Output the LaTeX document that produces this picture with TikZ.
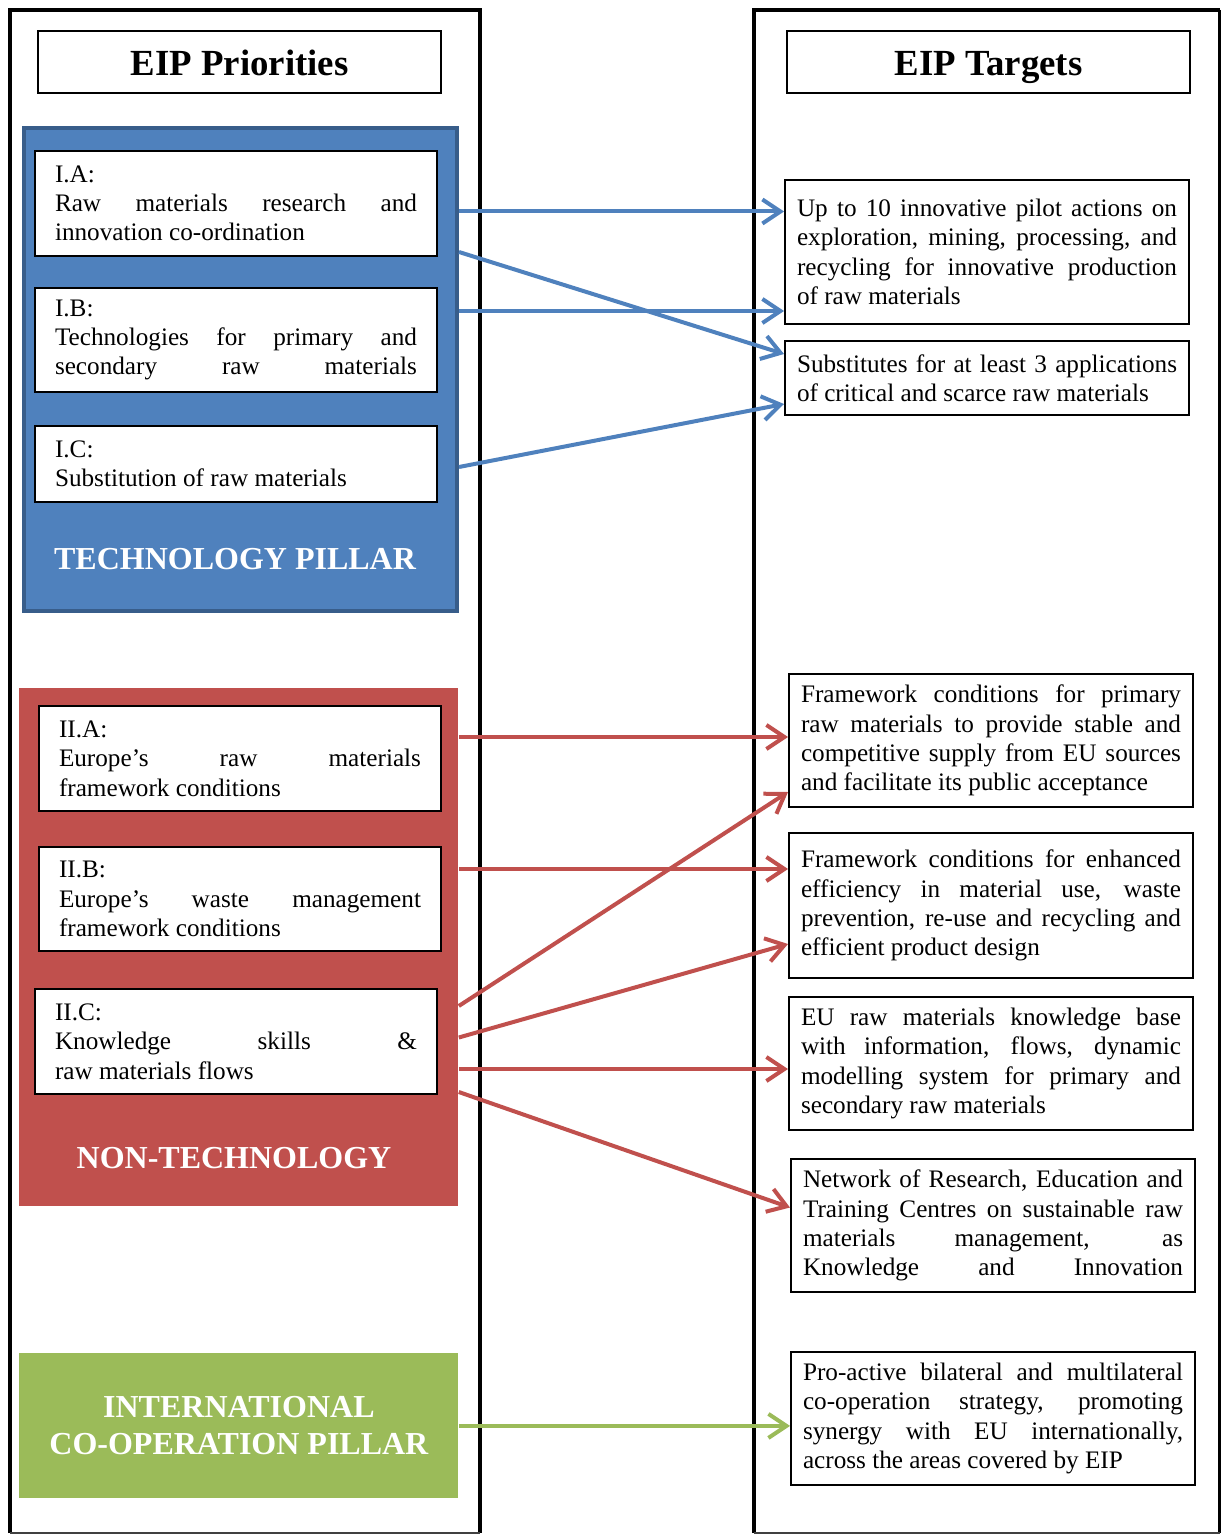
\documentclass[tikz,border=0pt]{standalone}
\usepackage{fontspec}
\setmainfont{Liberation Serif}
\usetikzlibrary{positioning, arrows.meta}

\definecolor{techblue}{HTML}{4F81BD}
\definecolor{techedge}{HTML}{385D8A}
\definecolor{nontechred}{HTML}{C0504D}
\definecolor{intlgreen}{HTML}{9BBB59}

\newcommand{\bodyfont}{\fontsize{12.6}{14.65}\selectfont}
\newcommand{\pillarfont}{\fontsize{16}{18.5}\selectfont\bfseries}
\newcommand{\jl}[1]{{\spaceskip=0pt\xspaceskip=0pt\makebox[\hsize][s]{#1}}}

\tikzset{
  headbox/.style={draw, fill=white, line width=1pt, minimum width=201.5pt, minimum height=31pt, text height=15pt, text depth=1pt, font=\fontsize{18.4}{22}\selectfont\bfseries},
  prio/.style={draw, fill=white, line width=1pt, text width=181pt, inner xsep=10pt, minimum height=52.5pt, align=flush left, font=\bodyfont},
  target/.style={draw, fill=white, line width=1pt, text width=190pt, inner xsep=6pt, minimum height=66.5pt, align=flush left, font=\bodyfont},
  pillarlabel/.style={text=white, align=center, font=\pillarfont},
  link/.style={line width=2pt, -{Straight Barb[length=9pt,width=12pt]}},
}

\begin{document}
\begin{tikzpicture}[x=0.5pt, y=-0.5pt]
	\useasboundingbox (0,0) rectangle (1223,1535);

	% the two columns
	\draw[line width=2pt] (10,1533) -- (10,10) -- (479.5,10) -- (479.5,1533);
	\draw[line width=0.8pt, black!75] (10,1533) -- (479.5,1533);
	\draw[line width=2pt] (754,1533) -- (754,10) -- (1219.5,10);
	\draw[line width=1.2pt] (1219.5,10) -- (1219.5,1533);
	\draw[line width=0.8pt, black!75] (754,1533) -- (1219.5,1533);

	\node[headbox, anchor=north west] (prihead) at (37,30) {EIP Priorities};
	\node[headbox, anchor=north west] (tgthead) at (786,30) {EIP Targets};

	% pillars
	\node[draw=techedge, line width=2pt, fill=techblue, anchor=north west, inner sep=0pt, minimum width=216.5pt, minimum height=241.5pt] (tech) at (22,126) {};
	\node[fill=nontechred, anchor=north west, inner sep=0pt, minimum width=219.5pt, minimum height=259pt] (nontech) at (19,688) {};
	\node[fill=intlgreen, anchor=north west, inner sep=0pt, minimum width=219.5pt, minimum height=72.5pt, pillarlabel] (intl) at (19,1353) {INTERNATIONAL\\CO-OPERATION PILLAR};

	\node[prio, anchor=north west] (IA) at (34,150) {I.A:\\ \jl{Raw materials research and}\\ innovation co-ordination};
	\node[prio, below=15pt of IA, minimum height=52pt] (IB) {I.B:\\ \jl{Technologies for primary and}\\ \jl{secondary raw materials}};
	\node[prio, below=16pt of IB, minimum height=38pt] (IC) {I.C:\\ Substitution of raw materials};
	\node[pillarlabel] (techlabel) at (235,559) {TECHNOLOGY PILLAR};

	\node[prio, anchor=north west] (IIA) at (38,705) {II.A:\\ \jl{Europe’s raw materials}\\ framework conditions};
	\node[prio, below=17pt of IIA, minimum height=52pt] (IIB) {II.B:\\ \jl{Europe’s waste management}\\ framework conditions};
	\node[prio, anchor=north west] (IIC) at (34,988) {II.C:\\ \jl{Knowledge skills \&}\\ raw materials flows};
	\node[pillarlabel] (nontechlabel) at (234,1158) {NON-TECHNOLOGY};

	% targets
	\node[target, anchor=north west, minimum height=72pt] (tA) at (784,179) {\jl{Up to 10 innovative pilot actions on}\\ \jl{exploration, mining, processing, and}\\ \jl{recycling for innovative production}\\ of raw materials};
	\node[target, below=7.5pt of tA, minimum height=37pt] (tB) {\jl{Substitutes for at least 3 applications}\\ of critical and scarce raw materials};
	\node[target, anchor=north west] (tC) at (788,673) {\jl{Framework conditions for primary}\\ \jl{raw materials to provide stable and}\\ \jl{competitive supply from EU sources}\\ and facilitate its public acceptance};
	\node[target, below=12pt of tC, minimum height=72.5pt] (tD) {\jl{Framework conditions for enhanced}\\ \jl{efficiency in material use, waste}\\ \jl{prevention, re-use and recycling and}\\ efficient product design};
	\node[target, below=8.5pt of tD] (tE) {\jl{EU raw materials knowledge base}\\ \jl{with information, flows, dynamic}\\ \jl{modelling system for primary and}\\ secondary raw materials};
	\node[target, below=13.5pt of tE, xshift=1pt] (tF) {\jl{Network of Research, Education and}\\ \jl{Training Centres on sustainable raw}\\ \jl{materials management, as}\\ \jl{Knowledge and Innovation}};
	\node[target, anchor=north west] (tG) at (790,1351) {\jl{Pro-active bilateral and multilateral}\\ \jl{co-operation strategy, promoting}\\ \jl{synergy with EU internationally,}\\ across the areas covered by EIP};

	% links
	\draw[link, techblue] ([yshift=-4pt]IA.east -| tech.east) -- ([yshift=-4pt]IA.east -| tA.west);
	\draw[link, techblue] ([yshift=2.5pt]IA.south -| tech.east) -- ([yshift=-7pt]tB.north west);
	\draw[link, techblue] ([yshift=7pt]tA.south west -| tech.east) -- ([yshift=7pt]tA.south west);
	\draw[link, techblue] ([yshift=-1.5pt]IC.east -| tech.east) -- ([yshift=6pt]tB.south west);

	\draw[link, nontechred] ([yshift=1.75pt]tC.west -| nontech.east) -- ([yshift=1.75pt]tC.west);
	\draw[link, nontechred] ([yshift=-9pt]IIC.north east -| nontech.east) -- ([yshift=8pt]tC.south west);
	\draw[link, nontechred] ([yshift=-18.5pt]tD.north west -| nontech.east) -- ([yshift=-18.5pt]tD.north west);
	\draw[link, nontechred] ([yshift=2pt]IIC.east -| nontech.east) -- ([yshift=17.5pt]tD.south west);
	\draw[link, nontechred] ([yshift=-2.75pt]tE.west -| nontech.east) -- ([yshift=-2.75pt]tE.west);
	\draw[link, nontechred] ([yshift=1.5pt]IIC.south east -| nontech.east) -- ([yshift=9pt]tF.west);

	\draw[link, intlgreen] (intl.east) -- (intl.east -| tG.west);
\end{tikzpicture}
\end{document}
